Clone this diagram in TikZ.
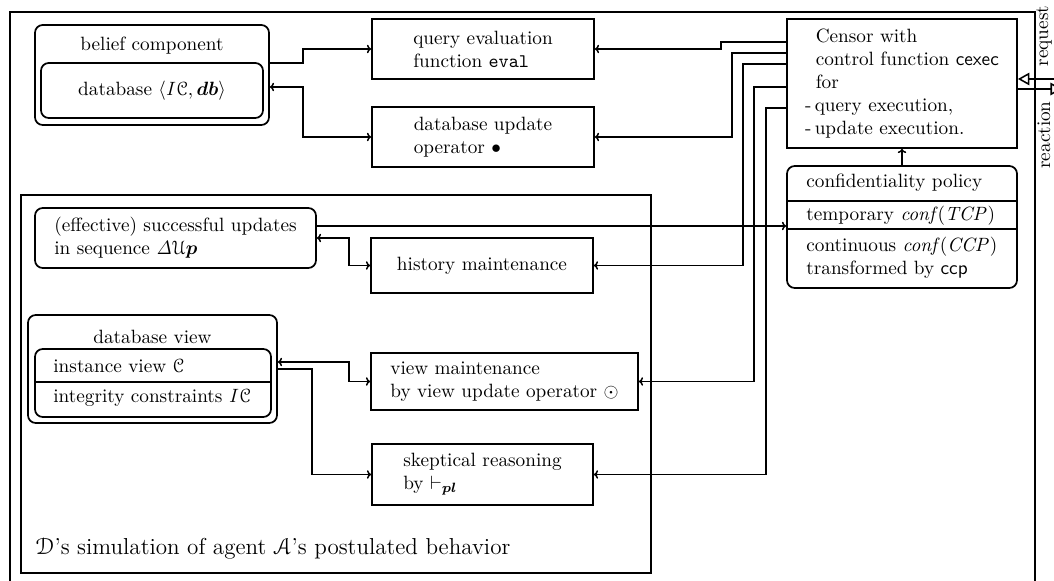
\documentclass[tikz,border=0pt]{standalone}
\usepackage{amsmath,amssymb,bm}
\usepackage{eucal}
\usetikzlibrary{arrows.meta}
\begin{document}
\begin{tikzpicture}[x=0.52pt,y=-0.52pt,
  sz/.style 2 args={minimum width={#1*0.52pt},minimum height={#2*0.52pt}},
  blk/.style={draw,line width=0.9pt,inner sep=0pt,align=left},
  rblk/.style={blk,rounded corners=4pt},
  wire/.style={line width=0.8pt},
  frm/.style={line width=0.6pt},
  lbl/.style={inner sep=0pt,anchor=west},
  >={To[length=2.2pt,width=4.4pt]},
]
\useasboundingbox (0,0) rectangle (1054,581);
\clip (0,0) rectangle (1054,581);

% outer frame (open at the bottom)
\draw[frm] (10,600) -- (10,12) -- (1035,12) -- (1035,600);
% simulation area
\draw[frm] (21,195) rectangle (651,573);
\node[lbl, font=\large] (simlbl) at (35,549) {$\mathcal{D}$'s simulation of agent $\mathcal{A}$'s postulated behavior};

% belief component
\node[rblk, sz={234}{100}] (bel) at (152,75) {};
\node[inner sep=0pt] (belt) at (152,46) {belief component};
\node[rblk, sz={222}{55}, align=center] (db) at (152,90.5) {database $\langle \mathit{I}\mathcal{C}, \bm{db}\rangle$};

% operators
\node[blk, sz={222}{60}] (qe) at (483,49) {query evaluation\\function \texttt{eval}};
\node[blk, sz={222}{60}] (du) at (483,137) {database update\\operator $\bullet$};

% censor
\node[blk, sz={230}{129}] (cen) at (902,83.5) {\hspace*{5.5pt}Censor with\\\hspace*{5.5pt}control function \textsf{cexec}\\\hspace*{5.5pt}for\\-\,query execution,\\-\,update execution.};

% confidentiality policy
\node[rblk, sz={230}{122}] (cp) at (902,227) {};
\draw[blk] (cp.west |- 0,201) -- (cp.east |- 0,201);
\draw[blk] (cp.west |- 0,229) -- (cp.east |- 0,229);
\node[lbl] (cpa) at (806,183) {confidentiality policy};
\node[lbl] (cpb) at (806,216) {temporary \textit{conf}$(\mathit{TCP})$};
\node[lbl, align=left] (cpc) at (806,258) {continuous \textit{conf}$(\mathit{CCP})$\\transformed by \textsf{ccp}};

% simulated components
\node[rblk, sz={281}{60}] (eff) at (175.5,238) {(effective) successful updates\\in sequence $\mathit{\Delta}\mathcal{U}\bm{p}$};
\node[blk, sz={222}{55}] (hist) at (482,265.5) {history maintenance};

\node[rblk, sz={249}{108}] (dbv) at (152.5,369) {};
\node[inner sep=0pt] (dbvt) at (152.5,337) {database view};
\node[rblk, sz={236}{68}] (iv) at (153,383) {};
\draw[blk] (iv.west |- 0,382) -- (iv.east |- 0,382);
\node[lbl] (ivc) at (53,366) {instance view $\mathcal{C}$};
\node[lbl] (ivic) at (53,398) {integrity constraints $\mathit{I}\mathcal{C}$};

\node[blk, sz={267}{57}] (vm) at (504.5,381.5) {view maintenance\\by view update operator $\odot$};
\node[blk, sz={221}{61}] (sk) at (482.5,474.5) {skeptical reasoning\\by $\vdash_{\bm{pl}}$};

% connections of the belief component
\draw[wire,->] (bel.east |- 0,63) -- (303,63) |- (qe.west);
\draw[wire,<->] (bel.east |- 0,87) -- (303,87) |- (du.west);

% connections of the censor
\draw[wire,->] (cen.west |- 0,42) -| (721,49) -- (qe.east);
\draw[wire,->] (cen.west |- 0,53) -| (732,137) -- (du.east);
\draw[wire,->] (cen.west |- 0,64) -| (743,265.5) -- (hist.east);
\draw[wire,->] (cen.west |- 0,87) -| (754,381.5) -- (vm.east);
\draw[wire,->] (cen.west |- 0,108) -| (766,474.5) -- (sk.east);
\draw[wire,->] (cp.north) -- (cen.south);

% history and view
\draw[wire,->] (eff.east |- 0,226) -- (cp.west |- 0,226);
\draw[wire,<->] (eff.east) -- (349,238) |- (hist.west);
\draw[wire,<->] (dbv.east |- 0,362) -- (349,362) |- (vm.west);
\draw[wire,->] (dbv.east |- 0,369) -- (312,369) |- (sk.west);

% interface to the outside
\coordinate (reqin) at (1060,79);
\coordinate (reacout) at (1062,89);
\draw[wire,-{Triangle[open,length=6pt,width=6.5pt]}] (reqin) -- (cen.east |- 0,79);
\draw[wire,-{Triangle[open,length=6pt,width=6.5pt]}] (cen.east |- 0,89) -- (reacout);
\node[rotate=90, inner sep=0pt] (reqlbl) at (1044,36) {request};
\node[rotate=90, inner sep=0pt] (reaclbl) at (1044,135) {reaction};
\end{tikzpicture}
\end{document}
